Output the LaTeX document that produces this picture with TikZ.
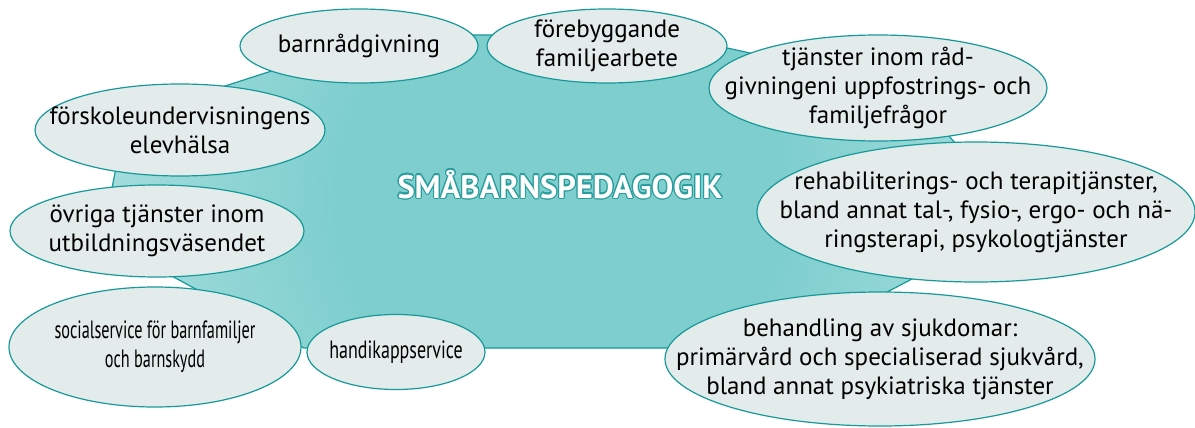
\documentclass[tikz,border=0pt]{standalone}
\usepackage{fontspec}
\setmainfont{PT Sans}
\usepackage[copies]{contour}
\usepackage{tikz}
\usetikzlibrary{shapes.geometric}
\definecolor{rim}{HTML}{17999A}
\definecolor{rimdark}{HTML}{2A9D9D}
\definecolor{bubblefill}{HTML}{E3ECEB}
\definecolor{hubcore}{HTML}{7ECECE}
\definecolor{hubmid}{HTML}{B3E2E2}
\definecolor{hubpale}{HTML}{E2F3F3}
\pgfdeclareradialshading{hubshade}{\pgfpoint{0bp}{0bp}}{color(0bp)=(hubcore); color(12bp)=(hubcore); color(30bp)=(hubmid); color(42bp)=(hubpale); color(50bp)=(white)}
\contourlength{1.1pt}
\tikzset{bubble/.style = {ellipse, draw = rim, fill = bubblefill, line width = 1.2pt, inner sep = 0}}
\tikzset{words/.style = {align = center, inner sep = 0, font = \fontsize{25}{29}\selectfont}}
\tikzset{title/.style = {text = white, inner sep = 0,
                         font = \fontsize{32.5}{36}\selectfont\bfseries}}

\begin{document}
\begin{tikzpicture}[x = 1pt, y = -1pt]
      \useasboundingbox (0, 0) rectangle (1195, 428);
      \coordinate (h1) at (102, 238);
      \coordinate (h2) at (126, 118);
      \coordinate (h3) at (383, 35);
      \coordinate (h4) at (668, 35);
      \coordinate (h5) at (909, 88);
      \coordinate (h6) at (1021, 222);
      \coordinate (h7) at (780, 348);
      \coordinate (h8) at (304, 348);
      \begin{scope}
        \clip (h1) -- (h2) -- (h3) -- (h4) -- (h5) -- (h6) -- (h7) -- (h8) -- cycle;
        \shade [shading = hubshade] (560, 200) circle (460);
      \end{scope}
      \draw [rim, line width = 1.2pt] (h1) -- (h2) -- (h3) -- (h4) -- (h5) -- (h6) -- (h7) -- (h8) -- cycle;
      \node [title, anchor = base] (hub) at (560, 198) {\contour{rimdark}{SMÅBARNSPEDAGOGIK}};
      \node [bubble, minimum width = 238, minimum height = 74,
             label = {[words]center:barnrådgivning}] (radgivning) at (359, 46) {};
      \node [bubble, minimum width = 240, minimum height = 74,
             label = {[words]center:förebyggande\\familjearbete}] (familjearbete) at (607, 46) {};
      \node [bubble, minimum width = 338, minimum height = 106,
             label = {[words]center:tjänster inom råd-\\givningeni uppfostrings- och\\familjefrågor}] (uppfostran) at (878, 88) {};
      \node [bubble, minimum width = 438, minimum height = 140,
             label = {[words]center:rehabiliterings- och terapitjänster,\\bland annat tal-, fysio-, ergo- och nä-\\ringsterapi, psykologtjänster}] (terapi) at (976, 212) {};
      \node [bubble, minimum width = 430, minimum height = 134,
             label = {[words]center:behandling av sjukdomar:\\primärvård och specialiserad sjukvård,\\bland annat psykiatriska tjänster}] (sjukvard) at (880, 359) {};
      \node [bubble, minimum width = 178, minimum height = 75,
             label = {[words]center:\scalebox{0.72}[1]{handikappservice}}] (handikapp) at (396, 352) {};
      \node [bubble, minimum width = 292, minimum height = 120,
             label = {[words]center:\scalebox{0.65}[1]{socialservice för barnfamiljer}\\\scalebox{0.65}[1]{och barnskydd}}] (barnskydd) at (155, 347) {};
      \node [bubble, minimum width = 294, minimum height = 92,
             label = {[words]center:övriga tjänster inom\\utbildningsväsendet}] (utbildning) at (157, 231) {};
      \node [bubble, minimum width = 290, minimum height = 92,
             label = {[words]center:förskoleundervisningens\\elevhälsa}] (elevhalsa) at (180, 130) {};
\end{tikzpicture}
\end{document}
